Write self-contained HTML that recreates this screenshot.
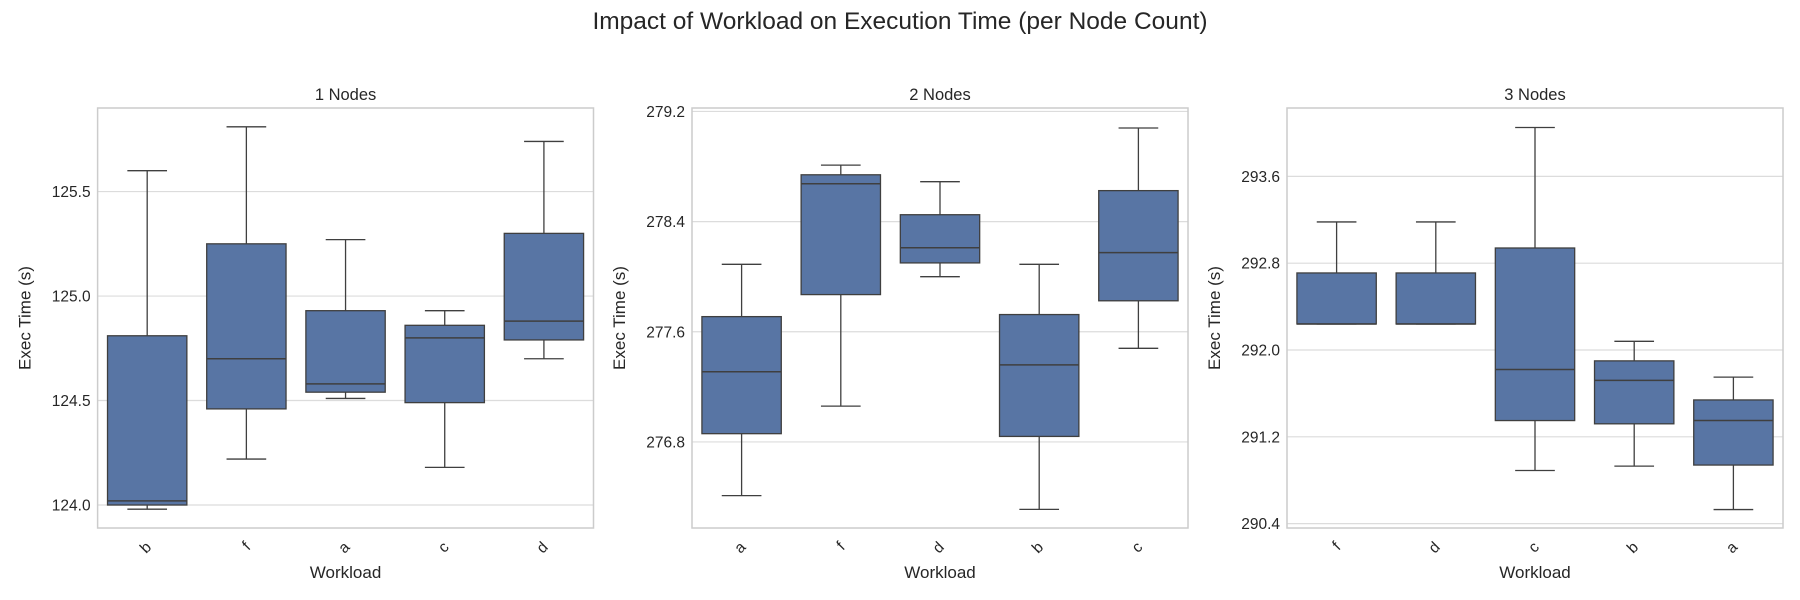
<!DOCTYPE html>
<html><head><meta charset="utf-8"><style>
body{margin:0;background:#fff}
svg{display:block;font-family:"Liberation Sans","DejaVu Sans",sans-serif}
</style></head><body>
<svg id="chart" width="1800" height="600" viewBox="0 0 1800 600">
<text x="900" y="29" text-anchor="middle" font-size="24.5" fill="#262626">Impact of Workload on Execution Time (per Node Count)</text>
</svg>
<script>
const panelTitles = ["1 Nodes","2 Nodes","3 Nodes"];
const cats1 = ["b","f","a","c","d"];
const cats2 = ["a","f","d","b","c"];
const cats3 = ["f","d","c","b","a"];
// [whiskerLow, q1, median, q3, whiskerHigh]
const stats1 = [[123.98,124.0,124.02,124.81,125.60],[124.22,124.46,124.70,125.25,125.81],[124.51,124.54,124.58,124.93,125.27],[124.18,124.49,124.80,124.86,124.93],[124.70,124.79,124.88,125.30,125.74]];
const stats2 = [[276.41,276.86,277.31,277.71,278.09],[277.06,277.87,278.675,278.74,278.81],[278.0,278.1,278.21,278.45,278.69],[276.31,276.84,277.36,277.725,278.09],[277.48,277.825,278.175,278.625,279.08]];
const stats3 = [[292.24,292.24,292.24,292.71,293.18],[292.24,292.24,292.24,292.71,293.18],[290.89,291.35,291.82,292.94,294.05],[290.93,291.32,291.72,291.90,292.08],[290.53,290.94,291.35,291.54,291.75]];
const ticks1 = [124.0,124.5,125.0,125.5];
const ticks2 = [276.8,277.6,278.4,279.2];
const ticks3 = [290.4,291.2,292.0,292.8,293.6];
const ranges = [[123.89,125.90],[276.175,279.225],[290.36,294.23]];
const panels = [
 {x0:97.6,x1:593.5,cats:cats1,stats:stats1,ticks:ticks1,dec:1},
 {x0:692,x1:1188,cats:cats2,stats:stats2,ticks:ticks2,dec:1},
 {x0:1287,x1:1783,cats:cats3,stats:stats3,ticks:ticks3,dec:1}
];
const NS="http://www.w3.org/2000/svg";
const svg=document.getElementById('chart');
function mk(tag,attrs,parent){const e=document.createElementNS(NS,tag);for(const k in attrs)e.setAttribute(k,attrs[k]);(parent||svg).appendChild(e);return e;}
const Y0=108,Y1=528;
panels.forEach((p,pi)=>{
  const g=mk('g',{});
  
  
  const [lo,hi]=ranges[pi];
  const y=v=>Y1-(v-lo)/(hi-lo)*(Y1-Y0);
  const bw=(p.x1-p.x0)/p.cats.length;
  const x=i=>p.x0+bw*(i+0.5);
  p.ticks.forEach(t=>{
    const l=mk('line',{x1:p.x0,x2:p.x1,y1:y(t),y2:y(t),stroke:'#dcdcdc','stroke-width':1.2},g);
    
    
    const tx=mk('text',{x:p.x0-7,y:y(t)+5.5,'text-anchor':'end','font-size':15.5,fill:'#262626'},g);
    tx.textContent=t.toFixed(p.dec);
    
    
  });
  const fr=mk('rect',{x:p.x0,y:Y0,width:p.x1-p.x0,height:Y1-Y0,fill:'none',stroke:'#cccccc','stroke-width':1.5},g);
  
  
  p.stats.forEach((s,i)=>{
    const cx=x(i),hw=bw*0.4,cw=bw*0.2;
    const bg=mk('g',{},g);
    
    
    mk('line',{x1:cx,x2:cx,y1:y(s[0]),y2:y(s[1]),stroke:'#3f3f3f','stroke-width':1.3},bg);
    mk('line',{x1:cx,x2:cx,y1:y(s[3]),y2:y(s[4]),stroke:'#3f3f3f','stroke-width':1.3},bg);
    mk('line',{x1:cx-cw,x2:cx+cw,y1:y(s[0]),y2:y(s[0]),stroke:'#3f3f3f','stroke-width':1.3},bg);
    mk('line',{x1:cx-cw,x2:cx+cw,y1:y(s[4]),y2:y(s[4]),stroke:'#3f3f3f','stroke-width':1.3},bg);
    mk('rect',{x:cx-hw,y:y(s[3]),width:2*hw,height:Math.max(0.5,y(s[1])-y(s[3])),fill:'#5875a4',stroke:'#3f3f3f','stroke-width':1.3},bg);
    mk('line',{x1:cx-hw,x2:cx+hw,y1:y(s[2]),y2:y(s[2]),stroke:'#3f3f3f','stroke-width':1.5},bg);
    const tl=mk('text',{x:0,y:0,'text-anchor':'end','font-size':15.5,fill:'#262626',transform:`translate(${cx+5},${Y1+20}) rotate(-45)`},g);
    tl.textContent=p.cats[i];
    
    
  });
  const tt=mk('text',{x:(p.x0+p.x1)/2,y:100,'text-anchor':'middle','font-size':16.5,fill:'#262626'},g);
  tt.textContent=panelTitles[pi];
  
  
  const xl=mk('text',{x:(p.x0+p.x1)/2,y:578,'text-anchor':'middle','font-size':17,fill:'#262626'},g);
  xl.textContent='Workload';
  
  
  const yl=mk('text',{x:0,y:0,'text-anchor':'middle','font-size':17,fill:'#262626',transform:`translate(${p.x0-67},${(Y0+Y1)/2}) rotate(-90)`},g);
  yl.textContent='Exec Time (s)';
  
  
});
</script>
</body></html>
